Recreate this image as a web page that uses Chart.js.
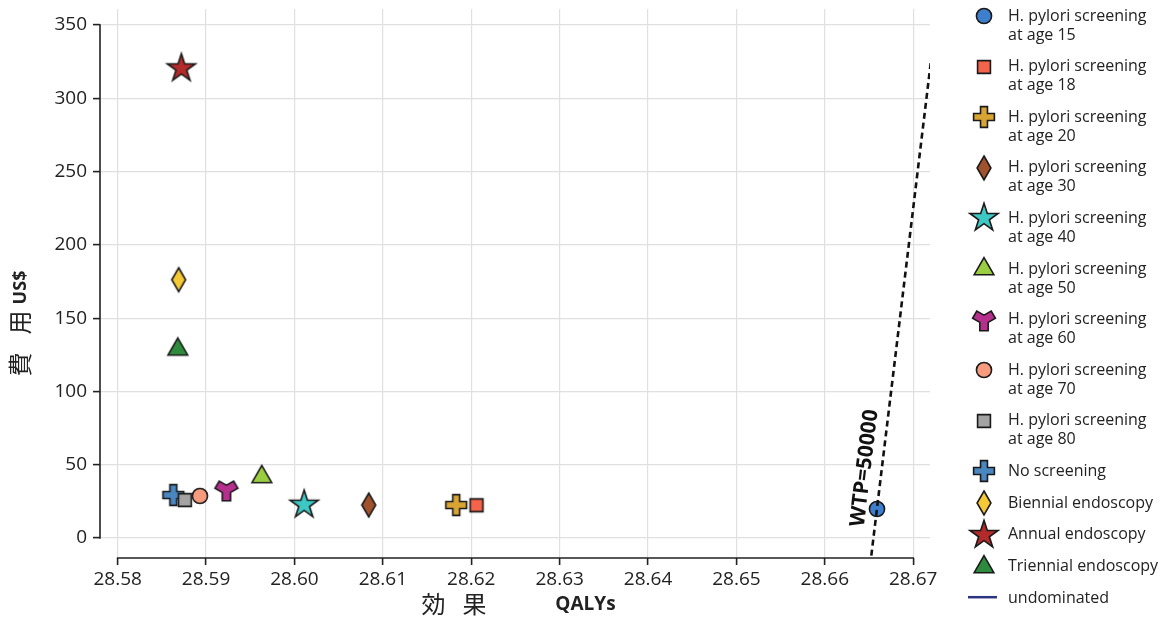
<!DOCTYPE html>
<html>
<head>
<meta charset="utf-8">
<title>費用効果</title>
<script src="https://cdn.jsdelivr.net/npm/chart.js@4.4.1/dist/chart.umd.min.js"></script>
<style>
  html, body { margin: 0; padding: 0; background: #fff; }
  canvas { display: block; }
</style>
</head>
<body>
<canvas id="ceChart" width="1168" height="621"></canvas>
<script>
// strategies in legend order
const strategies = [
  'H. pylori screening at age 15',
  'H. pylori screening at age 18',
  'H. pylori screening at age 20',
  'H. pylori screening at age 30',
  'H. pylori screening at age 40',
  'H. pylori screening at age 50',
  'H. pylori screening at age 60',
  'H. pylori screening at age 70',
  'H. pylori screening at age 80',
  'No screening',
  'Biennial endoscopy',
  'Annual endoscopy',
  'Triennial endoscopy'
];
const legendLines = [
  ['H. pylori screening', 'at age 15'],
  ['H. pylori screening', 'at age 18'],
  ['H. pylori screening', 'at age 20'],
  ['H. pylori screening', 'at age 30'],
  ['H. pylori screening', 'at age 40'],
  ['H. pylori screening', 'at age 50'],
  ['H. pylori screening', 'at age 60'],
  ['H. pylori screening', 'at age 70'],
  ['H. pylori screening', 'at age 80'],
  ['No screening'],
  ['Biennial endoscopy'],
  ['Annual endoscopy'],
  ['Triennial endoscopy']
];
const qalys = [28.6659, 28.6206, 28.6183, 28.6084, 28.6011, 28.5963, 28.5923, 28.5893, 28.5876, 28.5863, 28.5869, 28.5872, 28.5868];
const costs = [19.8, 22.3, 22.5, 22.5, 22.7, 41.7, 32.7, 28.7, 25.9, 29.3, 176.2, 320.4, 128.7];
const colors = ['#3d7fcc', '#f4644a', '#d8a533', '#a0522d', '#3ec8c4', '#9acd40', '#b5308c', '#f79b7f', '#a3a3a3', '#4a86c0', '#f5c935', '#b22a2a', '#2e8b3e'];
const shapes = ['circle', 'square', 'cross', 'diamond', 'star', 'triangle', 'wye', 'circle', 'square', 'cross', 'diamond', 'star', 'triangle'];

const xTicks = [28.58, 28.59, 28.60, 28.61, 28.62, 28.63, 28.64, 28.65, 28.66, 28.67];
const yTicks = [0, 50, 100, 150, 200, 250, 300, 350];

// willingness-to-pay line
const wtpQalys = [28.66526, 28.67206];
const wtpCosts = [-12, 328];
const wtpText = 'WTP=50000';
const wtpLabelCost = 45;

const undominatedQalys = [];
const undominatedCosts = [];

const FONT = "'Open Sans', 'Noto Sans', sans-serif";
const CJK = "'Noto Sans CJK JP', 'Noto Sans CJK SC', sans-serif";
const INK = '#222';

// d3-like symbol areas
const symbolSize = { circle: 180, square: 165, cross: 240, diamond: 166, star: 245, triangle: 168, wye: 240 };

function symbolPath(ctx, shape, size) {
  ctx.beginPath();
  if (shape === 'circle') {
    ctx.arc(0, 0, Math.sqrt(size / Math.PI), 0, 2 * Math.PI);
  } else if (shape === 'square') {
    const w = Math.sqrt(size);
    ctx.rect(-w / 2, -w / 2, w, w);
  } else if (shape === 'cross') {
    const r = Math.sqrt(size / 5) / 2;
    ctx.moveTo(-3 * r, -r); ctx.lineTo(-r, -r); ctx.lineTo(-r, -3 * r); ctx.lineTo(r, -3 * r);
    ctx.lineTo(r, -r); ctx.lineTo(3 * r, -r); ctx.lineTo(3 * r, r); ctx.lineTo(r, r);
    ctx.lineTo(r, 3 * r); ctx.lineTo(-r, 3 * r); ctx.lineTo(-r, r); ctx.lineTo(-3 * r, r);
  } else if (shape === 'diamond') {
    const t = Math.sqrt(1 / 3), y = Math.sqrt(size / (t * 2)), x = y * t;
    ctx.moveTo(0, -y); ctx.lineTo(x, 0); ctx.lineTo(0, y); ctx.lineTo(-x, 0);
  } else if (shape === 'star') {
    const ka = 0.8908130915292852;
    const kr = Math.sin(Math.PI / 10) / Math.sin(7 * Math.PI / 10);
    const kx = Math.sin(2 * Math.PI / 10) * kr, ky = -Math.cos(2 * Math.PI / 10) * kr;
    const r = Math.sqrt(size * ka), x = kx * r, y = ky * r;
    ctx.moveTo(0, -r); ctx.lineTo(x, y);
    for (let i = 1; i < 5; ++i) {
      const a = 2 * Math.PI * i / 5, c = Math.cos(a), s = Math.sin(a);
      ctx.lineTo(s * r, -c * r);
      ctx.lineTo(c * x - s * y, s * x + c * y);
    }
  } else if (shape === 'triangle') {
    const s3 = Math.sqrt(3), y = -Math.sqrt(size / (s3 * 3));
    ctx.moveTo(0, y * 2); ctx.lineTo(-s3 * y, -y); ctx.lineTo(s3 * y, -y);
  } else if (shape === 'wye') {
    const c = -0.5, s = Math.sqrt(3) / 2, k = 1 / Math.sqrt(12), a = (k / 2 + 1) * 3;
    const r = Math.sqrt(size / a);
    const x0 = r / 2, y0 = r * k, x1 = x0, y1 = r * k + r, x2 = -x1, y2 = y1;
    ctx.moveTo(x0, y0); ctx.lineTo(x1, y1); ctx.lineTo(x2, y2);
    ctx.lineTo(c * x0 - s * y0, s * x0 + c * y0);
    ctx.lineTo(c * x1 - s * y1, s * x1 + c * y1);
    ctx.lineTo(c * x2 - s * y2, s * x2 + c * y2);
    ctx.lineTo(c * x0 + s * y0, c * y0 - s * x0);
    ctx.lineTo(c * x1 + s * y1, c * y1 - s * x1);
    ctx.lineTo(c * x2 + s * y2, c * y2 - s * x2);
  }
  ctx.closePath();
}

function makeSymbol(shape, color) {
  const cv = document.createElement('canvas');
  cv.width = 44; cv.height = 44;
  const c = cv.getContext('2d');
  c.translate(22, 22);
  symbolPath(c, shape, symbolSize[shape]);
  c.fillStyle = color;
  c.fill();
  c.lineWidth = 1.6;
  c.lineJoin = 'miter';
  c.strokeStyle = '#1a1a1a';
  c.stroke();
  return cv;
}

const symbols = shapes.map((s, i) => makeSymbol(s, colors[i]));

const datasets = strategies.map((name, i) => ({
  label: name,
  data: [{ x: qalys[i], y: costs[i] }],
  pointStyle: symbols[i],
  pointRadius: 8,
  pointHoverRadius: 8,
  backgroundColor: colors[i],
  borderColor: INK,
  order: 1
}));
datasets.push({
  label: wtpText,
  data: wtpQalys.map((q, i) => ({ x: q, y: wtpCosts[i] })),
  showLine: true,
  borderColor: '#111',
  borderWidth: 2.6,
  borderDash: [6, 4],
  pointRadius: 0,
  order: 0
});
datasets.push({
  label: 'undominated',
  data: undominatedQalys.map((q, i) => ({ x: q, y: undominatedCosts[i] })),
  showLine: true,
  borderColor: '#2e3580',
  borderWidth: 2.5,
  pointRadius: 0,
  order: 0
});

// axis lines, axis titles, WTP label and legend
const overlay = {
  id: 'overlay',
  afterDraw(chart) {
    const { ctx, chartArea: a, scales: { x, y } } = chart;
    ctx.save();

    // axis lines only over the tick domain
    const xa = x.getPixelForValue(xTicks[0]), xb = x.getPixelForValue(xTicks[xTicks.length - 1]);
    const ya = y.getPixelForValue(yTicks[0]), yb = y.getPixelForValue(yTicks[yTicks.length - 1]);
    ctx.strokeStyle = INK;
    ctx.lineWidth = 1.6;
    ctx.beginPath();
    ctx.moveTo(xa - 0.8, a.bottom); ctx.lineTo(xb + 0.8, a.bottom);
    ctx.moveTo(a.left, ya + 0.8); ctx.lineTo(a.left, yb - 0.8);
    ctx.stroke();

    // x title
    const cx = (xa + xb) / 2;
    ctx.fillStyle = INK;
    ctx.textBaseline = 'middle';
    ctx.textAlign = 'center';
    ctx.font = '24px ' + CJK;
    ctx.fillText('効', cx - 82, 604);
    ctx.fillText('果', cx - 41, 604);
    ctx.font = 'bold 19px ' + FONT;
    ctx.fillText('QALYs', cx + 70, 605);

    // y title
    const cy = (ya + yb) / 2;
    ctx.save();
    ctx.translate(20, cy);
    ctx.rotate(-Math.PI / 2);
    ctx.font = '24px ' + CJK;
    ctx.fillText('費', -83, 0);
    ctx.fillText('用', -41, 0);
    ctx.font = 'bold 18px ' + FONT;
    ctx.fillText('US$', -6, 1);
    ctx.restore();

    // WTP label along the dashed line
    const p0 = { x: x.getPixelForValue(wtpQalys[0]), y: y.getPixelForValue(wtpCosts[0]) };
    const p1 = { x: x.getPixelForValue(wtpQalys[1]), y: y.getPixelForValue(wtpCosts[1]) };
    const t = (wtpLabelCost - wtpCosts[0]) / (wtpCosts[1] - wtpCosts[0]);
    const lx = p0.x + (p1.x - p0.x) * t, ly = p0.y + (p1.y - p0.y) * t;
    ctx.save();
    ctx.translate(lx, ly);
    ctx.rotate(Math.atan2(p1.y - p0.y, p1.x - p0.x));
    ctx.font = 'bold 21px ' + FONT;
    ctx.fillStyle = '#111';
    ctx.fillText(wtpText, 2, -17);
    ctx.restore();

    // legend
    const symX = 984, textX = 1008;
    let yy = 16;
    ctx.textAlign = 'left';
    ctx.font = '16px ' + FONT;
    legendLines.forEach((lines, i) => {
      ctx.drawImage(symbols[i], symX - 22, Math.round(yy) - 22);
      lines.forEach((ln, j) => ctx.fillText(ln, textX, yy + j * 19));
      yy += lines.length > 1 ? 50.6 : 31.7;
    });
    ctx.strokeStyle = '#2e3580';
    ctx.lineWidth = 2.5;
    ctx.beginPath();
    ctx.moveTo(968, yy - 1); ctx.lineTo(997, yy - 1);
    ctx.stroke();
    ctx.fillText('undominated', textX, yy);

    ctx.restore();
  }
};

Chart.defaults.font.family = FONT;
Chart.defaults.color = INK;

new Chart(document.getElementById('ceChart'), {
  type: 'scatter',
  data: { datasets },
  options: {
    responsive: false,
    animation: false,
    layout: { padding: { left: 0, top: 5, right: 238, bottom: 0 } },
    plugins: { legend: { display: false }, tooltip: { enabled: false } },
    scales: {
      x: {
        type: 'linear',
        min: 28.578,
        max: 28.6719,
        afterBuildTicks: s => { s.ticks = xTicks.map(v => ({ value: v })); },
        afterFit: s => { s.height = 63; s.paddingLeft = 0; s.paddingRight = 0; },
        ticks: { callback: v => v.toFixed(2), font: { size: 19 }, color: INK, padding: 3, maxRotation: 0 },
        grid: { color: '#e0e0e0', lineWidth: 1.2, tickColor: INK, tickLength: 7, tickWidth: 1.6 },
        border: { display: false }
      },
      y: {
        type: 'linear',
        min: -13.65,
        max: 360.9,
        afterBuildTicks: s => { s.ticks = yTicks.map(v => ({ value: v })); },
        afterFit: s => { s.width = 100; s.paddingTop = 0; s.paddingBottom = 0; },
        ticks: { font: { size: 19 }, color: INK, padding: 6 },
        grid: { color: '#e0e0e0', lineWidth: 1.2, tickColor: INK, tickLength: 7, tickWidth: 1.6 },
        border: { display: false }
      }
    }
  },
  plugins: [overlay]
});
</script>
</body>
</html>
